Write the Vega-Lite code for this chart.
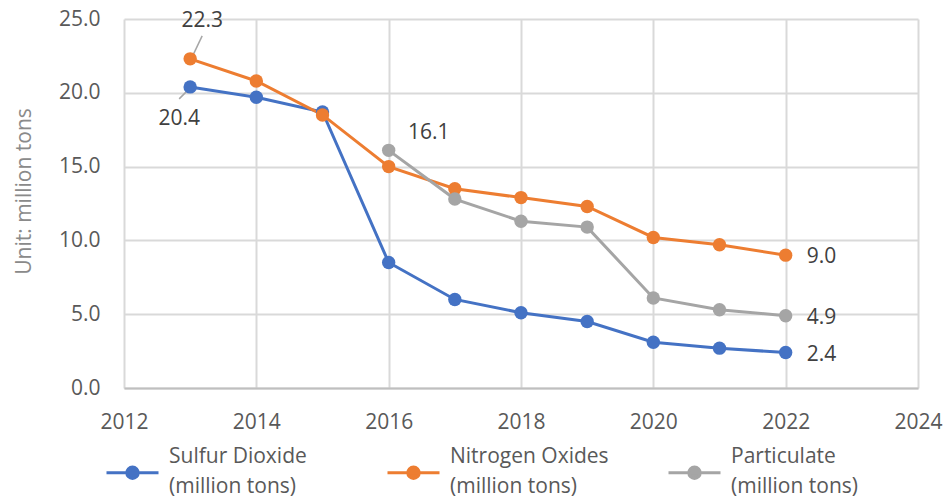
{
  "$schema": "https://vega.github.io/schema/vega-lite/v6.json",
  "width": 794,
  "height": 369,
  "autosize": {"type": "none"},
  "padding": {"left": 124, "top": 19, "right": 28, "bottom": 110},
  "background": "white",
  "config": {"view": {"stroke": null}, "font": "Open Sans"},
  "data": {
    "values": [
      {"year": 2013, "series": "Sulfur Dioxide (million tons)", "value": 20.4},
      {"year": 2014, "series": "Sulfur Dioxide (million tons)", "value": 19.7},
      {"year": 2015, "series": "Sulfur Dioxide (million tons)", "value": 18.7},
      {"year": 2016, "series": "Sulfur Dioxide (million tons)", "value": 8.5},
      {"year": 2017, "series": "Sulfur Dioxide (million tons)", "value": 6.0},
      {"year": 2018, "series": "Sulfur Dioxide (million tons)", "value": 5.1},
      {"year": 2019, "series": "Sulfur Dioxide (million tons)", "value": 4.5},
      {"year": 2020, "series": "Sulfur Dioxide (million tons)", "value": 3.1},
      {"year": 2021, "series": "Sulfur Dioxide (million tons)", "value": 2.7},
      {"year": 2022, "series": "Sulfur Dioxide (million tons)", "value": 2.4},
      {"year": 2013, "series": "Nitrogen Oxides (million tons)", "value": 22.3},
      {"year": 2014, "series": "Nitrogen Oxides (million tons)", "value": 20.8},
      {"year": 2015, "series": "Nitrogen Oxides (million tons)", "value": 18.5},
      {"year": 2016, "series": "Nitrogen Oxides (million tons)", "value": 15.0},
      {"year": 2017, "series": "Nitrogen Oxides (million tons)", "value": 13.5},
      {"year": 2018, "series": "Nitrogen Oxides (million tons)", "value": 12.9},
      {"year": 2019, "series": "Nitrogen Oxides (million tons)", "value": 12.3},
      {"year": 2020, "series": "Nitrogen Oxides (million tons)", "value": 10.2},
      {"year": 2021, "series": "Nitrogen Oxides (million tons)", "value": 9.7},
      {"year": 2022, "series": "Nitrogen Oxides (million tons)", "value": 9.0},
      {"year": 2016, "series": "Particulate (million tons)", "value": 16.1},
      {"year": 2017, "series": "Particulate (million tons)", "value": 12.8},
      {"year": 2018, "series": "Particulate (million tons)", "value": 11.3},
      {"year": 2019, "series": "Particulate (million tons)", "value": 10.9},
      {"year": 2020, "series": "Particulate (million tons)", "value": 6.1},
      {"year": 2021, "series": "Particulate (million tons)", "value": 5.3},
      {"year": 2022, "series": "Particulate (million tons)", "value": 4.9}
    ]
  },
  "encoding": {
    "x": {
      "field": "year",
      "type": "quantitative",
      "scale": {"domain": [2012, 2024], "nice": false, "zero": false},
      "axis": {
        "values": [2012, 2014, 2016, 2018, 2020, 2022, 2024],
        "format": "d",
        "title": null,
        "grid": true,
        "gridColor": "#d9d9d9",
        "gridWidth": 2,
        "ticks": false,
        "domainColor": "#bfbfbf",
        "domainWidth": 2,
        "labelFontSize": 21,
        "labelColor": "#595959",
        "labelFont": "Open Sans",
        "labelPadding": 23,
        "labelFlush": false
      }
    },
    "y": {
      "field": "value",
      "type": "quantitative",
      "scale": {"domain": [0, 25], "nice": false},
      "axis": {
        "values": [0, 5, 10, 15, 20, 25],
        "format": ".1f",
        "title": "Unit: million tons",
        "titleFontSize": 21,
        "titleFontWeight": "normal",
        "titleFont": "Open Sans",
        "titleColor": "#8a8a8a",
        "titlePadding": 24,
        "titleY": 172,
        "grid": true,
        "gridColor": "#d9d9d9",
        "gridWidth": 2,
        "domain": false,
        "ticks": false,
        "labelFontSize": 21,
        "labelColor": "#595959",
        "labelFont": "Open Sans",
        "labelPadding": 24,
        "labelFlush": false
      }
    }
  },
  "layer": [
    {
      "transform": [{"filter": "datum.series === 'Nitrogen Oxides (million tons)' && datum.year === 2013"}],
      "mark": {"type": "rule", "color": "#a6a6a6", "strokeWidth": 1.5, "xOffset": 2, "yOffset": -2, "x2Offset": 12, "y2Offset": -23},
      "encoding": {"x2": {"field": "year"}, "y2": {"field": "value"}}
    },
    {
      "transform": [{"filter": "datum.series === 'Sulfur Dioxide (million tons)' && datum.year === 2013"}],
      "mark": {"type": "rule", "color": "#a6a6a6", "strokeWidth": 1.5, "xOffset": -11, "yOffset": 12, "x2Offset": -1, "y2Offset": 2},
      "encoding": {"x2": {"field": "year"}, "y2": {"field": "value"}}
    },
    {
      "mark": {"type": "line", "strokeWidth": 3, "point": {"filled": true, "size": 180}},
      "encoding": {
        "color": {
          "field": "series",
          "type": "nominal",
          "scale": {
            "domain": ["Sulfur Dioxide (million tons)", "Nitrogen Oxides (million tons)", "Particulate (million tons)"],
            "range": ["#4472C4", "#ED7D31", "#A5A5A5"]
          },
          "legend": {
            "orient": "none",
            "legendX": -19,
            "legendY": 426,
            "direction": "horizontal",
            "columns": 3,
            "gridAlign": "all",
            "columnPadding": 53,
            "title": null,
            "padding": 0,
            "symbolType": "M-1,0H1M-0.22,0A0.22,0.22,0,1,1,0.22,0A0.22,0.22,0,1,1,-0.22,0Z",
            "symbolSize": 2704,
            "symbolStrokeWidth": 3,
            "labelFontSize": 21,
            "labelFont": "Open Sans",
            "labelColor": "#595959",
            "labelOffset": 9,
            "labelLimit": 400,
            "labelExpr": "[replace(datum.label, ' (million tons)', ''), '(million tons)']",
            "encode": {
              "symbols": {
                "update": {
                  "fill": {"scale": "color", "field": "value"},
                  "stroke": {"scale": "color", "field": "value"},
                  "opacity": {"value": 1}
                }
              },
              "labels": {
                "update": {
                  "lineHeight": {"value": 30},
                  "dy": {"value": -16}
                }
              }
            }
          }
        }
      }
    },
    {
      "transform": [{"filter": "datum.series === 'Nitrogen Oxides (million tons)' && datum.year === 2013"}],
      "mark": {"type": "text", "fontSize": 21, "font": "Open Sans", "color": "#404040", "dx": 12, "dy": -38},
      "encoding": {"text": {"field": "value", "type": "quantitative", "format": ".1f"}}
    },
    {
      "transform": [{"filter": "datum.series === 'Sulfur Dioxide (million tons)' && datum.year === 2013"}],
      "mark": {"type": "text", "fontSize": 21, "font": "Open Sans", "color": "#404040", "dx": -11, "dy": 32},
      "encoding": {"text": {"field": "value", "type": "quantitative", "format": ".1f"}}
    },
    {
      "transform": [{"filter": "datum.series === 'Particulate (million tons)' && datum.year === 2016"}],
      "mark": {"type": "text", "fontSize": 21, "font": "Open Sans", "color": "#404040", "dx": 40, "dy": -17},
      "encoding": {"text": {"field": "value", "type": "quantitative", "format": ".1f"}}
    },
    {
      "transform": [{"filter": "datum.year === 2022"}],
      "mark": {"type": "text", "fontSize": 21, "font": "Open Sans", "color": "#404040", "align": "left", "dx": 21, "dy": 2},
      "encoding": {"text": {"field": "value", "type": "quantitative", "format": ".1f"}}
    }
  ]
}
